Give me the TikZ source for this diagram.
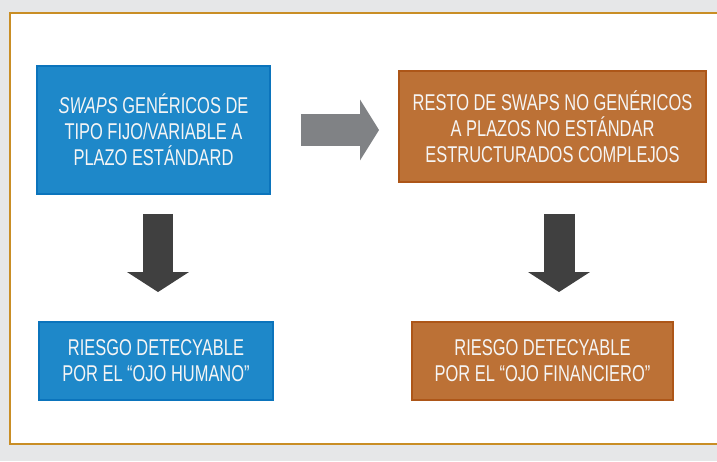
\documentclass[tikz,border=0pt]{standalone}
\usepackage{fontspec}
\setmainfont[FakeStretch=0.72]{Liberation Sans}
\usepackage{xcolor}
\usepackage{tikz}
\usetikzlibrary{positioning,arrows.meta}

\definecolor{bgGray}{HTML}{E6E7E8}
\definecolor{frameGold}{HTML}{C98E25}
\definecolor{boxBlue}{HTML}{1E88C9}
\definecolor{edgeBlue}{HTML}{0B74BC}
\definecolor{boxOrange}{HTML}{BC7136}
\definecolor{edgeOrange}{HTML}{AD5618}
\definecolor{arrowGray}{HTML}{808285}
\definecolor{arrowDark}{HTML}{404040}

\begin{document}
\begin{tikzpicture}[x=0.02cm, y=0.02cm,
        box/.style={draw, rectangle, line width=1.1pt, align=center, text=white!96!black,
                    font=\fontsize{13}{14.8}\selectfont, inner sep=0pt},
        bluebox/.style={box, fill=boxBlue, draw=edgeBlue},
        orangebox/.style={box, fill=boxOrange, draw=edgeOrange},
        downflow/.style={line width=0.62cm, draw=arrowDark,
                         -{Triangle[width=1.22cm, length=0.4cm]}},
        sideflow/.style={line width=0.64cm, draw=arrowGray,
                         -{Triangle[width=1.2cm, length=0.38cm]}}
    ]
        \useasboundingbox (0,0) rectangle (717,461);
        \fill[bgGray] (0,0) rectangle (717,461);
        \draw[frameGold, line width=0.045cm, fill=white] (10,17) rectangle (730,448);

        \node[bluebox, minimum width=233*0.02cm, minimum height=128*0.02cm] (generic) at (153.5,331)
            {\textit{SWAPS} GENÉRICOS DE\\TIPO FIJO/VARIABLE A\\PLAZO ESTÁNDARD};
        \node[orangebox, minimum width=307*0.02cm, minimum height=111*0.02cm] (complex) at (552.5,334.5)
            {RESTO DE SWAPS NO GENÉRICOS\\A PLAZOS NO ESTÁNDAR\\ESTRUCTURADOS COMPLEJOS};
        \node[bluebox, minimum width=234*0.02cm, minimum height=78*0.02cm] (human) at (156,100)
            {RIESGO DETECYABLE\\POR EL “OJO HUMANO"};
        \node[orangebox, minimum width=261*0.02cm, minimum height=78*0.02cm] (financial) at (542.5,100)
            {RIESGO DETECYABLE\\POR EL “OJO FINANCIERO"};

        \draw[sideflow, shorten <=0.6cm, shorten >=0.38cm] (generic.east) -- (generic.east -| complex.west);
        \draw[downflow, shorten <=0.38cm, shorten >=0.58cm]
            ([xshift=0.09cm]generic.south) -- ([xshift=0.09cm]generic.south |- human.north);
        \draw[downflow, shorten <=0.62cm, shorten >=0.58cm]
            ([xshift=0.13cm]complex.south) -- ([xshift=0.13cm]complex.south |- financial.north);
    \end{tikzpicture}
\end{document}
